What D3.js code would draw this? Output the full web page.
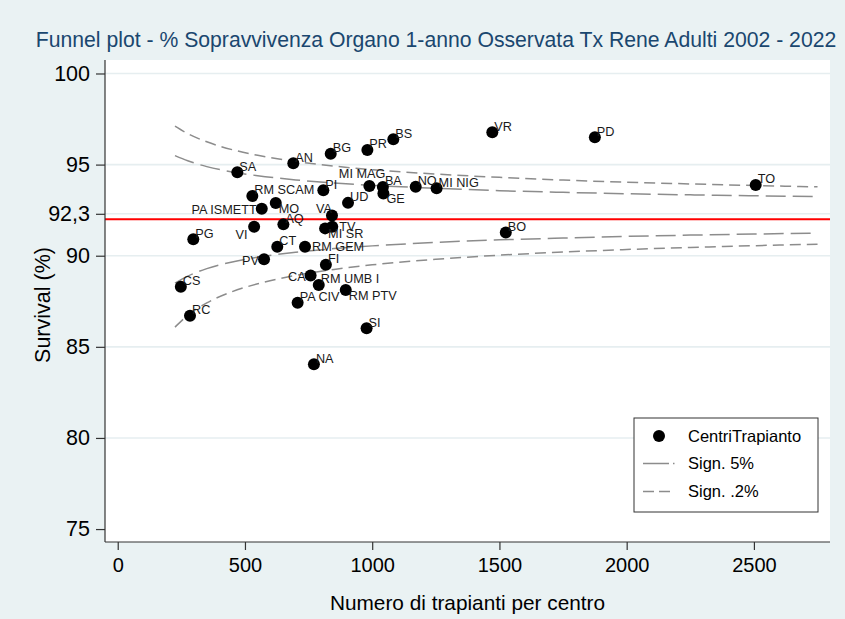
<!DOCTYPE html>
<html>
<head>
<meta charset="utf-8">
<script src="https://cdn.jsdelivr.net/npm/d3@7"></script>
<style>
  html, body { margin: 0; padding: 0; background: #eaf2f3; }
  svg { display: block; font-family: "Liberation Sans", Arial, sans-serif; }
</style>
</head>
<body>
<svg id="chart" width="845" height="619"></svg>
<script>
// ---------------- DATA ----------------
const centres = ["SA","AN","BG","PR","BS","VR","PD","TO","PI","MI MAG","BA","GE","NO","MI NIG",
  "RM SCAM","MO","UD","PA ISMETT","VA","AQ","VI","TV","MI SR","BO","PG","CT","RM GEM","PV",
  "FI","CA","RM UMB I","CS","RM PTV","PA CIV","RC","SI","NA"];
const volumes = [470,690,837,981,1083,1472,1875,2507,808,989,1042,1044,1171,1253,
  529,621,905,566,842,651,536,843,815,1525,297,627,736,575,
  818,758,790,248,896,707,284,978,771];
const survival = [94.58,95.07,95.60,95.80,96.39,96.77,96.50,93.88,93.59,93.83,93.77,93.42,93.79,93.70,
  93.28,92.89,92.90,92.58,92.21,91.72,91.59,91.59,91.50,91.28,90.90,90.49,90.49,89.80,
  89.51,88.92,88.39,88.30,88.12,87.42,86.71,86.02,84.04];

const funnelN  = [225,275,350,450,550,700,850,1000,1250,1500,1750,2000,2250,2500,2750];
const upper02  = [97.11,96.70,96.25,95.82,95.51,95.17,94.92,94.72,94.48,94.30,94.15,94.03,93.94,93.85,93.78];
const lower02  = [86.08,86.73,87.41,88.03,88.46,88.92,89.25,89.50,89.80,90.03,90.20,90.34,90.45,90.55,90.63];
const upper5   = [95.49,95.21,94.89,94.60,94.39,94.16,93.99,93.86,93.70,93.57,93.48,93.40,93.34,93.29,93.24];
const lower5   = [88.50,88.88,89.29,89.66,89.92,90.19,90.39,90.54,90.73,90.87,90.97,91.06,91.13,91.19,91.24];

const refLine = 92.0;
const yTicks = [75, 80, 85, 90, 92.3, 95, 100];
const yGrid  = [80, 85, 90, 92.3, 95, 100];
const xTicks = [0, 500, 1000, 1500, 2000, 2500];
const legendLabels = ["CentriTrapianto", "Sign. 5%", "Sign. .2%"];
const titleText = "Funnel plot - % Sopravvivenza Organo 1-anno Osservata Tx Rene Adulti 2002 - 2022";
const xTitle = "Numero di trapianti per centro";
const yTitle = "Survival (%)";

// label clock positions (styling)
const labelPos = {"TV":"r","RM GEM":"r","MO":"br","GE":"br","MI SR":"br","RM PTV":"br",
  "PA ISMETT":"l","PV":"l","CA":"l","VI":"bl","VA":"tl","MI MAG":"t"};

// ---------------- LAYOUT ----------------
const W = 845, H = 619;
const L = 105, R = 830, T = 60, B = 542;
const svg = d3.select("#chart");
const x = d3.scaleLinear().domain([-50, 2799]).range([L, R]);
const y = d3.scaleLinear().domain([74.29, 100.74]).range([B, T]);

svg.append("rect").attr("width", W).attr("height", H).attr("fill", "#eaf2f3");
svg.append("rect").attr("x", L).attr("y", T).attr("width", R - L).attr("height", B - T).attr("fill", "#ffffff");

// gridlines
svg.append("g").selectAll("line").data(yGrid).join("line")
  .attr("x1", L).attr("x2", R).attr("y1", d => y(d)).attr("y2", d => y(d))
  .attr("stroke", "#e6eef0").attr("stroke-width", 1.6);

// reference line
svg.append("line").attr("x1", L).attr("x2", R).attr("y1", y(refLine)).attr("y2", y(refLine))
  .attr("stroke", "#ff0000").attr("stroke-width", 1.8);

// funnel lines
const line = (arr) => d3.line().x((d, i) => x(funnelN[i])).y(d => y(d)).curve(d3.curveMonotoneX)(arr);
const lineStyles = [
  {data: upper02, dash: "11,6"},
  {data: lower02, dash: "11,6"},
  {data: upper5, dash: "20,7"},
  {data: lower5, dash: "20,7"}
];
svg.append("g").selectAll("path").data(lineStyles).join("path")
  .attr("d", d => line(d.data)).attr("fill", "none")
  .attr("stroke", "#8c8c8c").attr("stroke-width", 1.5).attr("stroke-dasharray", d => d.dash);

// points
const pts = centres.map((c, i) => ({c, v: volumes[i], s: survival[i]}));
svg.append("g").selectAll("circle").data(pts).join("circle")
  .attr("cx", d => x(d.v)).attr("cy", d => y(d.s)).attr("r", 6).attr("fill", "#000");

// labels
const lab = svg.append("g").attr("font-size", 12.7).attr("fill", "#1a1a1a");
pts.forEach(d => {
  const px = x(d.v), py = y(d.s);
  const p = labelPos[d.c] || "d";
  let tx = px + 2, ty = py - 6, anchor = "start";
  if (p === "r")  { tx = px + 7; ty = py; }
  if (p === "br") { tx = px + 3; ty = py + 5.5; }
  if (p === "l")  { tx = px - 5; ty = py + 1; anchor = "end"; }
  if (p === "bl") { tx = px - 6.5; ty = py + 8; anchor = "end"; }
  if (p === "tl") { tx = px; ty = py - 6.5; anchor = "end"; }
  if (p === "t")  { tx = px + 16; ty = py - 12; anchor = "end"; }
  lab.append("text").attr("x", tx).attr("y", ty).attr("dy", "0.35em")
    .attr("text-anchor", anchor).text(d.c);
});

// axes
const yAxis = d3.axisLeft(y).tickValues(yTicks).tickSize(9).tickSizeOuter(0).tickPadding(6)
  .tickFormat(d => String(d).replace(".", ","));
const gy = svg.append("g").attr("transform", `translate(${L},0)`).call(yAxis);
gy.select(".domain").attr("stroke", "#333").attr("stroke-width", 1.2).attr("d", `M0,${T}V${B}`);
gy.selectAll(".tick line").attr("stroke", "#333").attr("stroke-width", 1.2);
gy.selectAll(".tick text").attr("font-size", 21.5).attr("fill", "#000")
  .attr("font-family", "'Liberation Sans', Arial, sans-serif");

const xAxis = d3.axisBottom(x).tickValues(xTicks).tickSize(8).tickSizeOuter(0).tickPadding(8)
  .tickFormat(d3.format("d"));
const gx = svg.append("g").attr("transform", `translate(0,${B})`).call(xAxis);
gx.select(".domain").attr("stroke", "#333").attr("stroke-width", 1.2).attr("d", `M${L},0H${R}`);
gx.selectAll(".tick line").attr("stroke", "#333").attr("stroke-width", 1.2);
gx.selectAll(".tick text").attr("font-size", 20).attr("fill", "#000")
  .attr("font-family", "'Liberation Sans', Arial, sans-serif");

// titles
svg.append("text").attr("x", 436).attr("y", 40).attr("dy", "0.35em").attr("text-anchor", "middle")
  .attr("font-size", 21.2).attr("fill", "#1a476f").text(titleText);
svg.append("text").attr("x", (L + R) / 2).attr("y", 603).attr("dy", "0.35em").attr("text-anchor", "middle")
  .attr("font-size", 20.8).attr("fill", "#000").text(xTitle);
svg.append("text").attr("transform", "translate(42,305) rotate(-90)").attr("dy", "0.35em")
  .attr("text-anchor", "middle").attr("font-size", 21.5).attr("fill", "#000").text(yTitle);

// legend
const lg = svg.append("g");
lg.append("rect").attr("x", 634).attr("y", 418).attr("width", 184).attr("height", 94)
  .attr("fill", "#fff").attr("stroke", "#333").attr("stroke-width", 1);
const rows = [436, 463.5, 491.5];
lg.append("circle").attr("cx", 659).attr("cy", rows[0]).attr("r", 6).attr("fill", "#000");
lg.append("line").attr("x1", 643).attr("x2", 676).attr("y1", rows[1]).attr("y2", rows[1])
  .attr("stroke", "#8c8c8c").attr("stroke-width", 1.5).attr("stroke-dasharray", "26,4,1.5,20");
lg.append("line").attr("x1", 643).attr("x2", 675).attr("y1", rows[2]).attr("y2", rows[2])
  .attr("stroke", "#8c8c8c").attr("stroke-width", 1.5).attr("stroke-dasharray", "11,5");
lg.selectAll("text.lt").data(legendLabels).join("text").attr("class", "lt")
  .attr("x", 688).attr("y", (d, i) => rows[i]).attr("dy", "0.35em")
  .attr("font-size", 16.5).attr("fill", "#000").text(d => d);
</script>
</body>
</html>
